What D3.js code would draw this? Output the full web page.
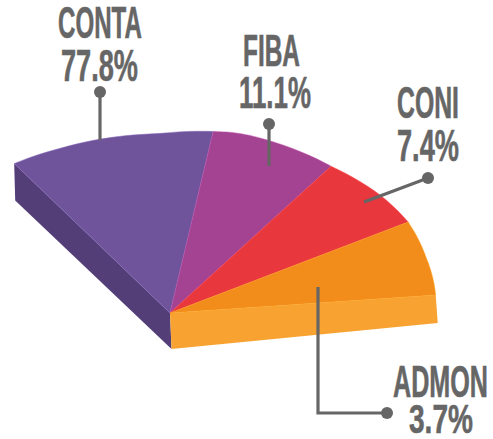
<!DOCTYPE html>
<html><head><meta charset="utf-8">
<script src="https://cdn.jsdelivr.net/npm/d3@7/dist/d3.min.js"></script>
<style>html,body{margin:0;padding:0;background:#fff}svg{display:block}</style>
</head><body><svg id="c" width="493" height="439"></svg>
<script>
const categories = ["CONTA","FIBA","CONI","ADMON"];
const values = [77.8,11.1,7.4,3.7];
// Angular width each slice is actually drawn with in the picture (degrees)
const drawnSpans = [45,27.8,23.9,23.4];
const colors = ["#6f549c","#a34391","#e8383d","#f28c1b"];

const svg = d3.select("#c");
const deg = Math.PI/180;
const O = {x:170,y:313}, rx = 267, ry = 184;
const start = -35.7*deg;
const total = d3.sum(drawnSpans)*deg;
const pie = d3.pie().sort(null).value((d,i)=>drawnSpans[i]).startAngle(start).endAngle(start+total);
const arcs = pie(values);
// the printed rim is not a perfect ellipse: radial correction by angle
const rim = d3.scaleLinear()
  .domain([-35.7,-25,-15,-3,9.3,15,25,37.1,51,61,72,84.4].map(d=>d*deg))
  .range([1,.985,.98,.975,1,1.012,1.006,1,1.015,1.02,1.006,1]);
const pt = a => [O.x+rx*rim(a)*Math.sin(a), O.y-ry*rim(a)*Math.cos(a)];
const A = pt(start), E = pt(start+total);
const line = d3.line();
const smooth = d3.line().curve(d3.curveCatmullRom);
const slicePath = d => {
  const n = Math.ceil((d.endAngle-d.startAngle)/(4*deg));
  const rimPts = d3.range(n+1).map(i=>pt(d.startAngle+(d.endAngle-d.startAngle)*i/n));
  return `M${O.x},${O.y}L`+smooth(rimPts).slice(1)+"Z";
};

// side faces
svg.append("path").attr("d",line([A,[O.x,O.y],[O.x+1.5,O.y+36],[A[0]+1,A[1]+37]])+"Z").attr("fill","#533e78");
svg.append("path").attr("d",line([E,[E[0]+2,E[1]+28],[E[0]+1,E[1]+14]])+"Z").attr("fill","#c8701a");
svg.append("path").attr("d",line([[O.x,O.y],E,[E[0]+2,E[1]+28],[O.x+1.5,O.y+36]])+"Z").attr("fill","#f8a331");

// top faces
svg.append("g").selectAll("path").data(arcs).join("path")
  .attr("d",slicePath)
  .attr("fill",(d,i)=>colors[i])
  .attr("stroke",(d,i)=>d3.color(colors[i]).brighter(0.5))
  .attr("stroke-width",0.5);

// leaders
const leaders = [
  [[100,92],[100,140]],
  [[269,124],[269,166]],
  [[428,178],[364,202]],
  [[387,413],[318,413],[318,287]]
];
const labelLayout = [
  [{x:58,y:38,w:84},{x:61,y:81,w:77}],
  [{x:243,y:66,w:57},{x:239,y:108,w:72}],
  [{x:397,y:118,w:62},{x:397,y:161,w:62}],
  [{x:393,y:397,w:95},{x:409,y:433,w:64}]
];
const gray = "#666666";
leaders.forEach(p=>{
  svg.append("path").attr("d",line(p)).attr("fill","none").attr("stroke",gray).attr("stroke-width",3.2);
  svg.append("circle").attr("cx",p[0][0]).attr("cy",p[0][1]).attr("r",6).attr("fill",gray);
});

// labels: fitted horizontally to the condensed widths of the original lettering
categories.forEach((c,i)=>{
  [c, d3.format(".1f")(values[i])+"%"].forEach((t,j)=>{
    const l = labelLayout[i][j];
    const txt = svg.append("text").text(t)
      .attr("font-family","'Liberation Sans Narrow','Liberation Sans',sans-serif")
      .attr("font-weight",700).attr("font-size",(i==3&&j==1)?41:43.5).attr("fill",gray)
      .attr("stroke",gray).attr("stroke-width",0.6);
    const natural = txt.node().getComputedTextLength();
    txt.attr("transform",`translate(${l.x},${l.y}) scale(${l.w/natural},1)`);
  });
});
</script></body></html>
